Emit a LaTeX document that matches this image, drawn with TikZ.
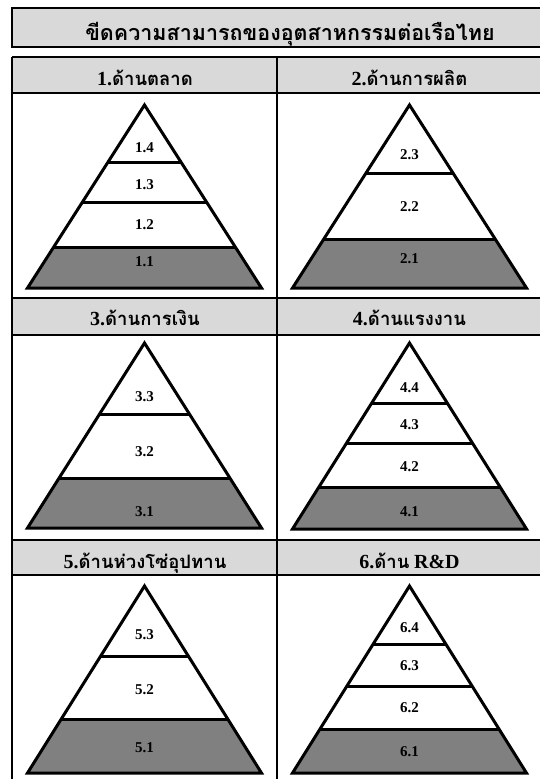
\documentclass[tikz,border=0pt]{standalone}
\usepackage{fontspec}
\setmainfont{Liberation Serif}
\newfontfamily\thaifont[Script=Thai]{Loma}
\usetikzlibrary{calc}
\definecolor{hdrgray}{HTML}{D9D9D9}
\definecolor{pyrgray}{HTML}{808080}
\newcommand{\pyr}[7]{%
  \coordinate (#1a) at (#2,#3);
  \coordinate (#1l) at ({#2-117},#4);
  \coordinate (#1r) at ({#2+117},#4);
  \pgfmathsetmacro\gfr{(#5-#3)/(#4-#3)}
  \fill[pyrgray] ($(#1a)!\gfr!(#1l)$) -- ($(#1a)!\gfr!(#1r)$) -- (#1r) -- (#1l) -- cycle;
  \foreach \yy in {#5,#6} {\pgfmathsetmacro\dfr{(\yy-#3)/(#4-#3)}
    \draw[pyrline] ($(#1a)!\dfr!(#1l)$) -- ($(#1a)!\dfr!(#1r)$);}
  \draw[pyrline] (#1a) -- (#1r) -- (#1l) -- cycle;
  \foreach \yy/\txt [count=\k] in {#7} {\node[lbl] (#1t\k) at (#2,\yy) {\txt};}
}
\newcommand{\hnum}[1]{{\fontsize{20}{20}\selectfont #1}}
\begin{document}
\begin{tikzpicture}[x=1pt,y=-1pt,
  cellline/.style={line width=1.3pt},
  pyrline/.style={line width=3pt, line join=miter},
  lbl/.style={font=\bfseries\fontsize{15}{15}\selectfont, inner sep=0pt},
  hdr/.style={font=\bfseries\fontsize{18.5}{18.5}\selectfont, anchor=base, inner sep=0pt}]
\useasboundingbox (0,0) rectangle (539,779);
% title
\path[draw, line width=1.6pt, fill=hdrgray] (12,8) rectangle (570,47);
\node[hdr, font=\bfseries\fontsize{21.5}{21.5}\selectfont] (title) at (290,40) {\thaifont ขีดความสามารถของอุตสาหกรรมต่อเรือไทย};
% header fills
\fill[hdrgray] (12,57) rectangle (545,93);
\fill[hdrgray] (12,298) rectangle (545,335);
\fill[hdrgray] (12,540) rectangle (545,575);
% grid
\foreach \yy in {57,93,298,335,540,575} {\draw[cellline] (12,\yy) -- (545,\yy);}
\foreach \xx in {12,277,542} {\draw[cellline] (\xx,57) -- (\xx,790);}
% header texts
\node[hdr] (h1) at (145,85) {\hnum{1.}{\thaifont ด้านตลาด}};
\node[hdr] (h2) at (409.5,85) {\hnum{2.}{\thaifont ด้านการผลิต}};
\node[hdr] (h3) at (145,325) {\hnum{3.}{\thaifont ด้านการเงิน}};
\node[hdr] (h4) at (409.5,325) {\hnum{4.}{\thaifont ด้านแรงงาน}};
\node[hdr] (h5) at (145,568) {\hnum{5.}{\thaifont ด้านห่วงโซ่อุปทาน}};
\node[hdr] (h6) at (409.5,568) {\hnum{6.}{\thaifont ด้าน} \hnum{R\&D}};
% pyramids
\pyr{pa}{144.5}{105}{288}{247}{163,202}{148/1.4,185/1.3,225/1.2,262/1.1}
\pyr{pb}{409.5}{105}{288}{239}{173}{155/2.3,207/2.2,259/2.1}
\pyr{pc}{144.5}{343}{528}{478}{414}{397/3.3,452/3.2,512/3.1}
\pyr{pd}{409.5}{343}{529}{487}{403,443}{388/4.4,425/4.3,467/4.2,512/4.1}
\pyr{pe}{144.5}{586}{773}{719}{656}{635/5.3,690/5.2,748/5.1}
\pyr{pf}{409.5}{586}{773}{729}{644,686}{628/6.4,666/6.3,708/6.2,752/6.1}
\end{tikzpicture}
\end{document}
